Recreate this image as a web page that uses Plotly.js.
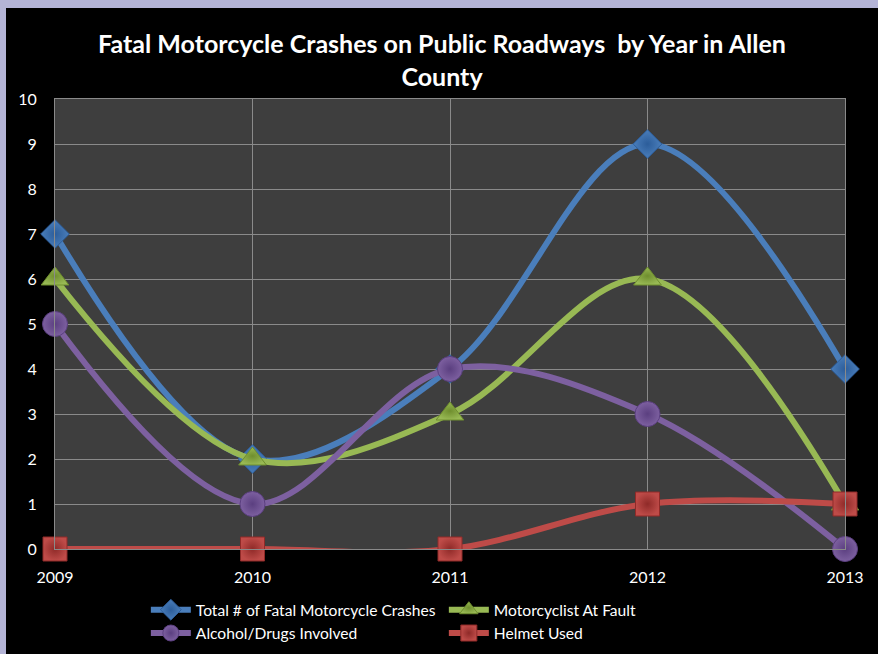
<!DOCTYPE html>
<html><head><meta charset="utf-8">
<script src="https://cdn.plot.ly/plotly-3.0.1.min.js"></script>
<style>
html,body{margin:0;padding:0;background:#b4b4d6;width:878px;height:654px;overflow:hidden;}
#chart{position:absolute;left:6px;top:8px;width:872px;height:646px;}
</style></head>
<body><div id="chart"></div>
<script>
const years = [2009, 2010, 2011, 2012, 2013];
const totalCrashes = [7, 2, 4, 9, 4];
const atFault = [6, 2, 3, 6, 1];
const alcoholDrugs = [5, 1, 4, 3, 0];
const helmetUsed = [0, 0, 0, 1, 1];
const seriesNames = ["Total # of Fatal Motorcycle Crashes", "Motorcyclist At Fault", "Alcohol/Drugs Involved", "Helmet Used"];
const yTicks = [0,1,2,3,4,5,6,7,8,9,10];

function tr(name, y, color, dark, symbol, size){
  return {
    x: years, y: y, name: name, type: 'scatter', mode: 'lines+markers',
    line: {color: color, width: 6, shape: 'spline', smoothing: 1},
    marker: {symbol: symbol, size: size, color: color,
      gradient: {type: 'radial', color: dark},
      line: {color: dark, width: 1}},
    cliponaxis: false
  };
}
const data = [
  tr(seriesNames[0], totalCrashes, '#4a7ebb', '#2c5d9a', 'diamond', 22),
  tr(seriesNames[1], atFault, '#98b954', '#6f8e2e', 'triangle-up', 24),
  tr(seriesNames[2], alcoholDrugs, '#7d60a0', '#5b3f80', 'circle', 25),
  tr(seriesNames[3], helmetUsed, '#be4b48', '#8f2a28', 'square', 24)
];
const layout = {
  width: 872, height: 646,
  margin: {l: 49, r: 33, t: 91, b: 105, autoexpand: false},
  paper_bgcolor: '#000000', plot_bgcolor: '#3e3e3e',
  font: {family: 'Lato, "Open Sans", sans-serif', color: '#ffffff', size: 16},
  title: {text: '<b>Fatal Motorcycle Crashes on Public Roadways  by Year in Allen<br>County</b>',
    font: {size: 25, color: '#ffffff', family: 'Lato, "Open Sans", sans-serif'},
    x: 0.5, xanchor: 'center', y: 0.93, yanchor: 'top'},
  xaxis: {range: [2009, 2013], tickvals: years, ticktext: years.map(String),
    showgrid: true, gridcolor: '#8a8a8a', gridwidth: 1, zeroline: false,
    showline: true, linecolor: '#8a8a8a', mirror: true, ticks: '', ticklen: 0,
    ticklabelstandoff: 14, automargin: false,
    tickfont: {size: 16, color: '#ffffff'}},
  yaxis: {range: [0, 10], tickvals: yTicks, showgrid: true, gridcolor: '#8a8a8a', gridwidth: 1,
    zeroline: false, showline: true, linecolor: '#8a8a8a', mirror: true, ticks: '',
    ticklabelstandoff: 14, automargin: false,
    tickfont: {size: 16, color: '#ffffff'}},
  showlegend: true,
  legend: {orientation: 'h', x: 0.115, xanchor: 'left', y: -0.098, yanchor: 'top',
    entrywidth: 243, entrywidthmode: 'pixels', tracegroupgap: 0,
    font: {size: 15.6, color: '#ffffff'}, bgcolor: 'rgba(0,0,0,0)', itemwidth: 40}
};
Plotly.newPlot('chart', data, layout, {displayModeBar: false, staticPlot: true});
</script></body></html>
